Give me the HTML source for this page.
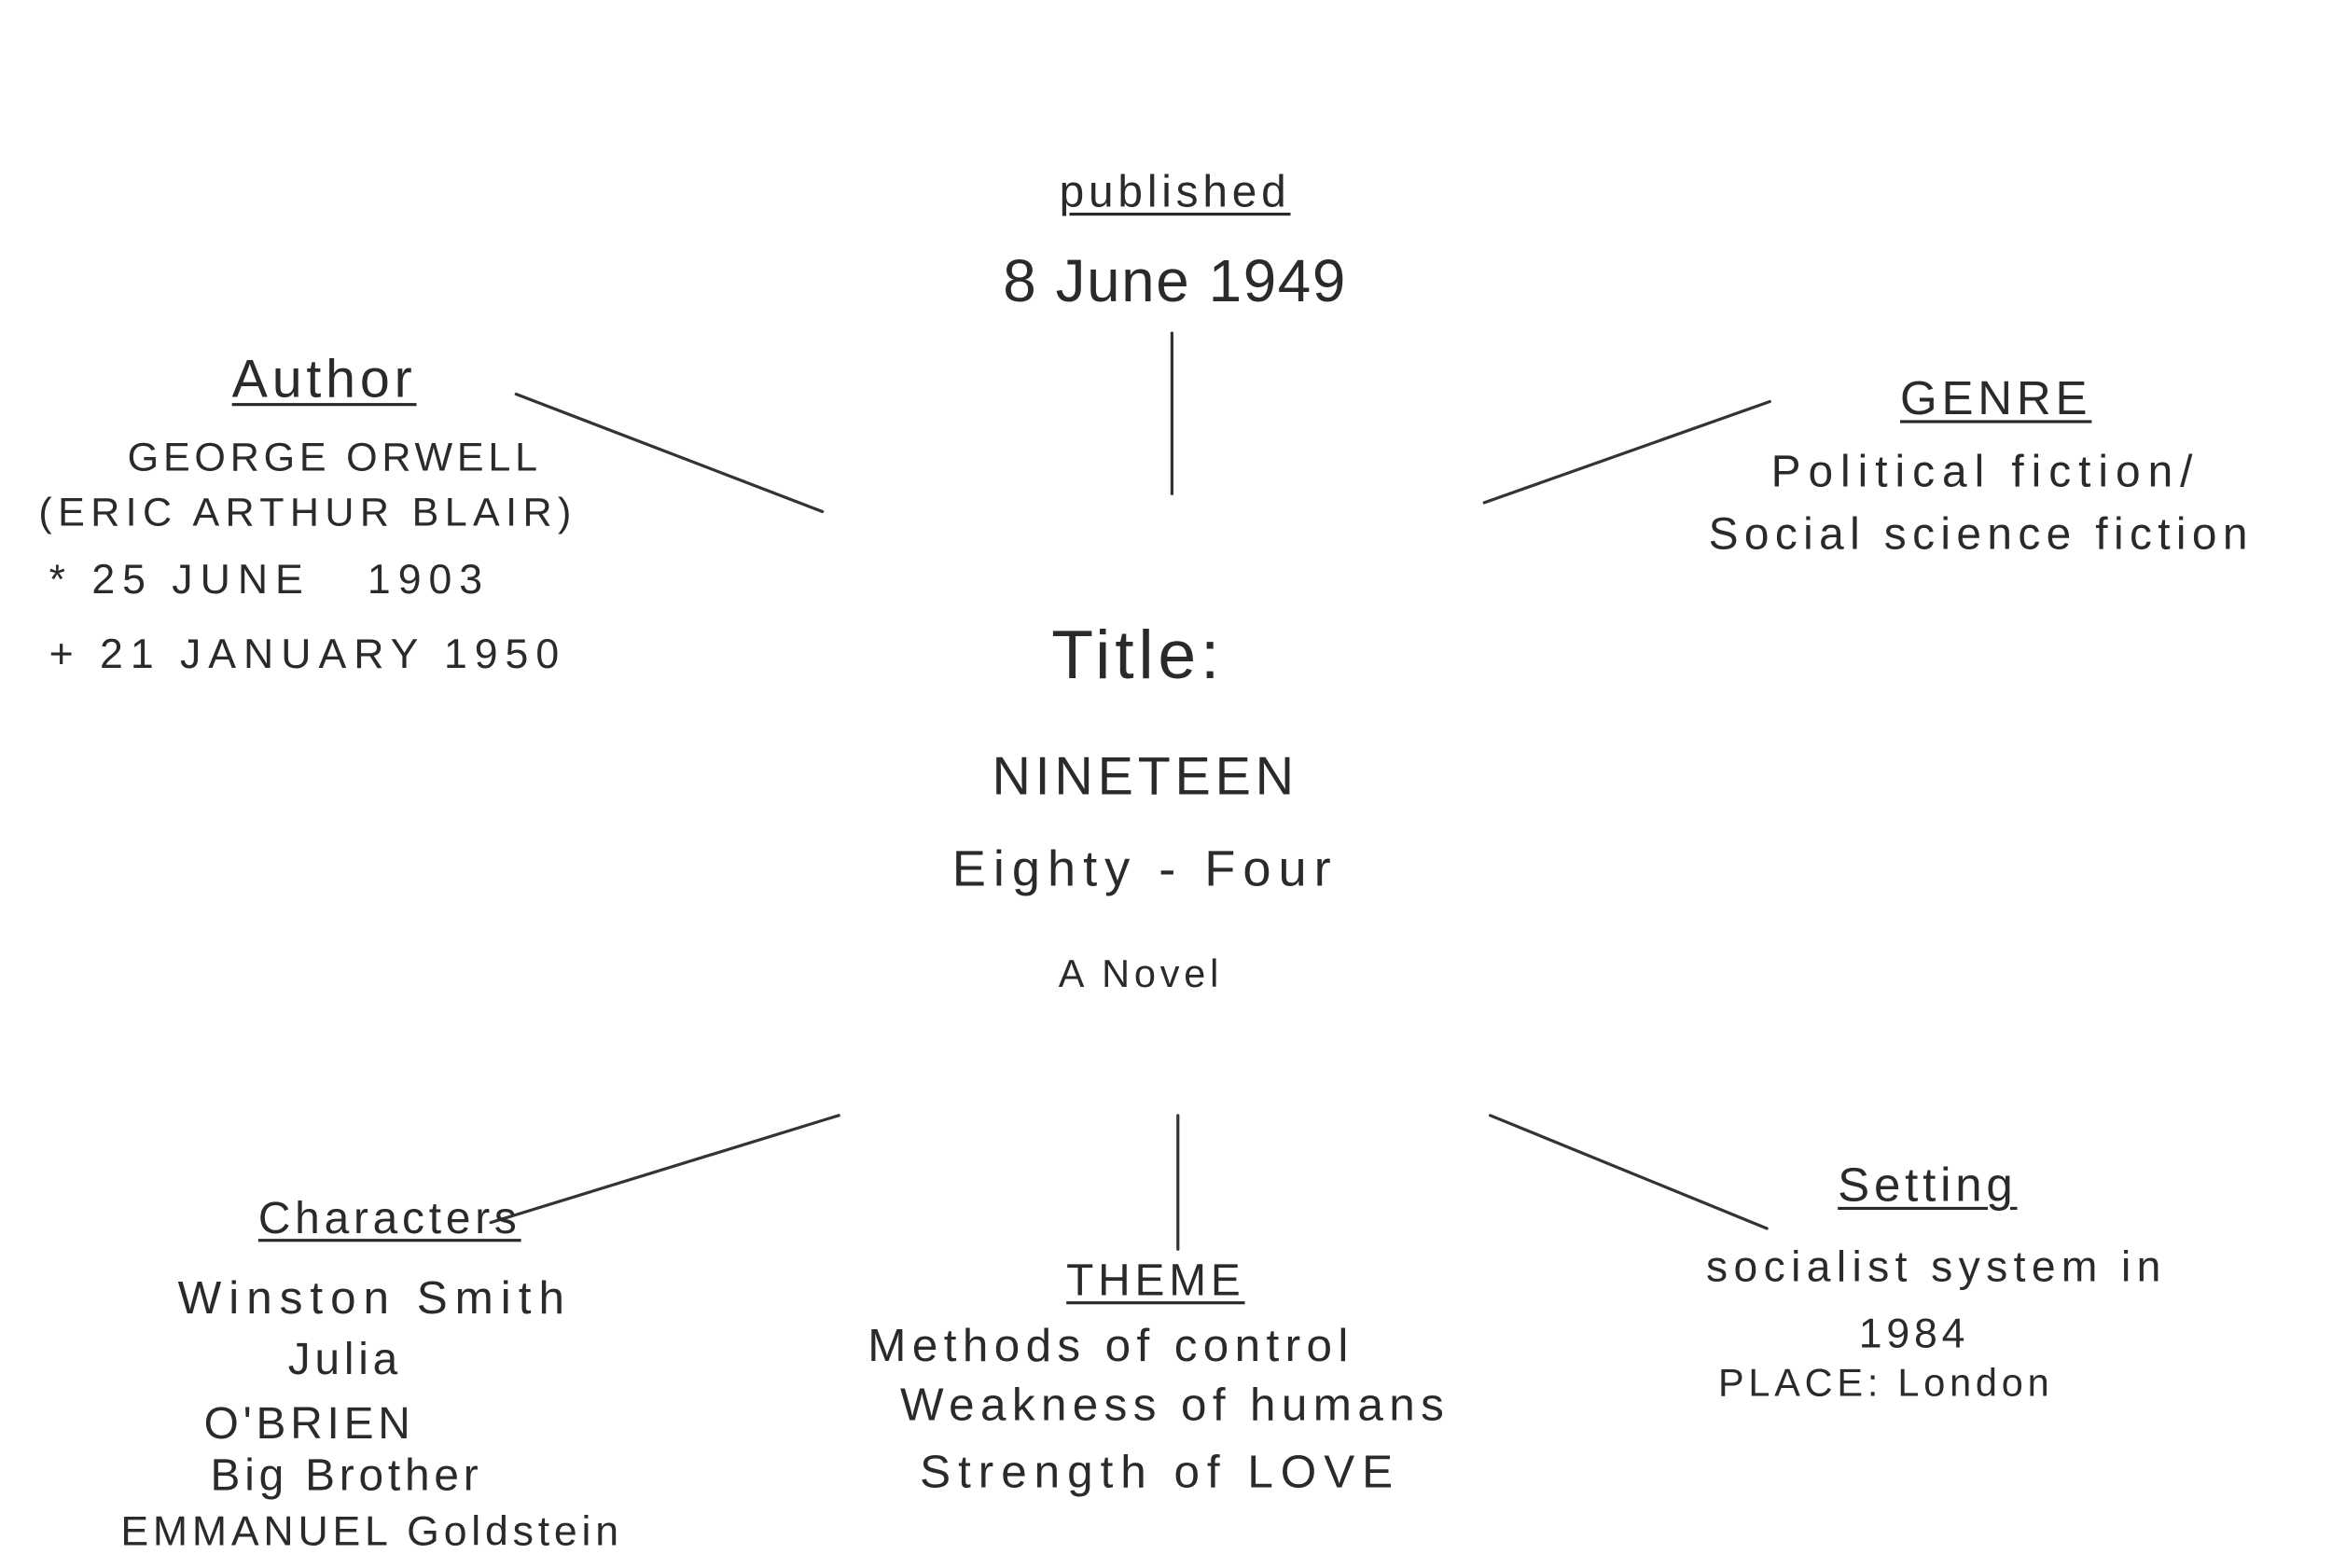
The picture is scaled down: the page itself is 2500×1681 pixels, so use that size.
<!DOCTYPE html>
<html><head><meta charset="utf-8"><style>
html,body{margin:0;padding:0;background:#fff;}
body{width:2500px;height:1681px;overflow:hidden;position:relative;}
#s{position:absolute;left:0;top:0;width:1568px;height:1054px;transform:scale(1.5944);transform-origin:0 0;}
.t{position:absolute;transform:translate(-50%,-50%);white-space:nowrap;font-family:"Liberation Sans",sans-serif;color:#2a2a2a;letter-spacing:3px;}
.l{transform:translate(0,-50%);}
.u{text-decoration:underline;text-decoration-thickness:1.5px;text-underline-offset:4px;}
svg{position:absolute;left:0;top:0;}
</style></head><body><div id="s">
<svg width="1568" height="1054" stroke="#333" stroke-width="2" stroke-linecap="round">
<line x1="347" y1="265" x2="553" y2="344"/>
<line x1="788" y1="224" x2="788" y2="332"/>
<line x1="998" y1="338" x2="1190" y2="270"/>
<line x1="330" y1="822" x2="564" y2="750"/>
<line x1="792" y1="750" x2="792" y2="840"/>
<line x1="1002" y1="750" x2="1188" y2="826"/>
</svg>
<div class="t u" style="left:790px;top:130px;font-size:30px">published</div>
<div class="t" style="left:790px;top:190px;font-size:40px;letter-spacing:1px">8 June 1949</div>
<div class="t u" style="left:218px;top:255px;font-size:36px">Author</div>
<div class="t" style="left:225px;top:308px;font-size:27px">GEORGE ORWELL</div>
<div class="t" style="left:207px;top:345px;font-size:27px;letter-spacing:4px">(ERIC ARTHUR BLAIR)</div>
<div class="t l" style="left:33px;top:390px;font-size:28px;letter-spacing:5px">* 25 JUNE &nbsp;&nbsp;1903</div>
<div class="t l" style="left:33px;top:440px;font-size:28px;letter-spacing:5px">+ 21 JANUARY 1950</div>
<div class="t u" style="left:1342px;top:268px;font-size:32px">GENRE</div>
<div class="t" style="left:1335px;top:318px;font-size:30px;letter-spacing:5px">Political fiction/</div>
<div class="t" style="left:1332px;top:360px;font-size:30px;letter-spacing:4px">Social science fiction</div>
<div class="t" style="left:765px;top:440px;font-size:46px">Title:</div>
<div class="t" style="left:770px;top:522px;font-size:36px">NINETEEN</div>
<div class="t" style="left:770px;top:585px;font-size:34px;letter-spacing:5px">Eighty - Four</div>
<div class="t" style="left:767px;top:655px;font-size:26px">A Novel</div>
<div class="t u" style="left:262px;top:820px;font-size:30px">Characters</div>
<div class="t" style="left:252px;top:873px;font-size:31px;letter-spacing:5px">Winston Smith</div>
<div class="t" style="left:232px;top:915px;font-size:30px">Julia</div>
<div class="t" style="left:208px;top:958px;font-size:30px">O'BRIEN</div>
<div class="t" style="left:233px;top:993px;font-size:30px">Big Brother</div>
<div class="t" style="left:250px;top:1030px;font-size:28px">EMMANUEL Goldstein</div>
<div class="t u" style="left:777px;top:862px;font-size:30px">THEME</div>
<div class="t" style="left:747px;top:905px;font-size:31px;letter-spacing:4px">Methods of control</div>
<div class="t" style="left:790px;top:945px;font-size:31px;letter-spacing:4px">Weakness of humans</div>
<div class="t" style="left:780px;top:990px;font-size:31px;letter-spacing:5px">Strength of LOVE</div>
<div class="t u" style="left:1296px;top:797px;font-size:32px">Setting</div>
<div class="t" style="left:1302px;top:853px;font-size:29px;letter-spacing:4px">socialist system in</div>
<div class="t" style="left:1287px;top:897px;font-size:28px">1984</div>
<div class="t" style="left:1268px;top:930px;font-size:26px">PLACE: London</div>
</div></body></html>
